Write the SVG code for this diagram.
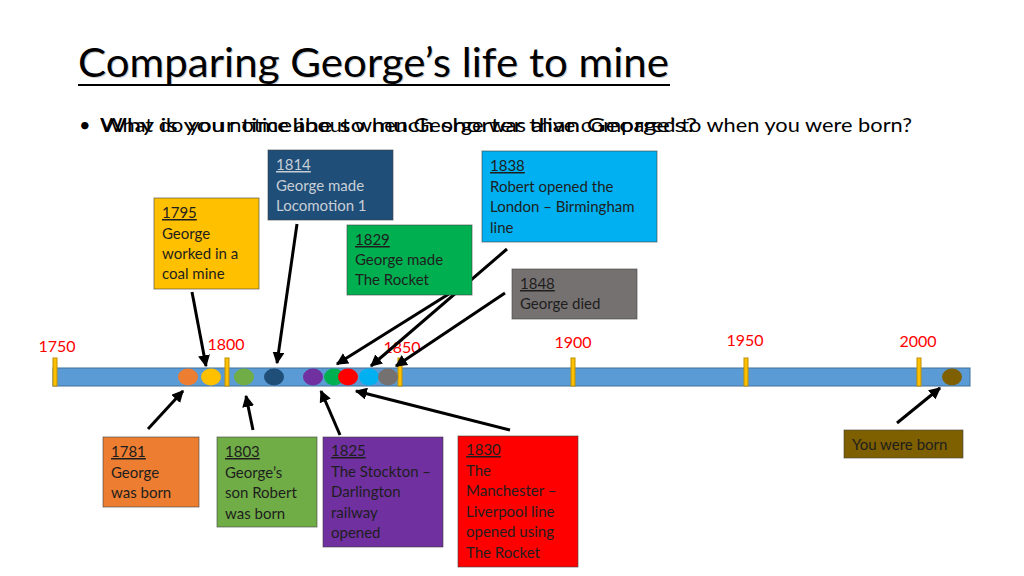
<svg xmlns="http://www.w3.org/2000/svg" width="1024" height="576" viewBox="0 0 1024 576">
<defs>
<marker id="ah" viewBox="0 0 10 10" refX="9" refY="5" markerWidth="4" markerHeight="4" orient="auto" markerUnits="strokeWidth">
<path d="M0,0 L10,5 L0,10 z" fill="#000"/>
</marker>
<style>
.t{font-family:"Lato","Open Sans","Liberation Sans",sans-serif;}
.box{stroke:#404040;stroke-opacity:0.6;stroke-width:1;}
.bt{font-family:"Lato","Open Sans","Liberation Sans",sans-serif;font-size:15px;fill:#1e1e1e;}
.yr{text-decoration:underline;}
.lab{font-family:"Lato","Open Sans","Liberation Sans",sans-serif;font-size:16px;fill:#ff0000;text-anchor:middle;}
.tick{fill:#ffc000;stroke:#bf9000;stroke-width:1;}
.arr{stroke:#000;stroke-width:3;fill:none;marker-end:url(#ah);}
</style>
</defs>
<rect width="1024" height="576" fill="#ffffff"/>
<g id="title">
<text class="t" x="79" y="78" font-size="40" fill="#9a9a9a" textLength="591" lengthAdjust="spacingAndGlyphs" opacity="0.5">Comparing George’s life to mine</text>
<text class="t" x="78" y="77" font-size="40" fill="#000" textLength="591" lengthAdjust="spacingAndGlyphs">Comparing George’s life to mine</text>
<rect x="78" y="84" width="592" height="2" fill="#000"/>
</g>
<g id="bullet">
<text class="t" x="79" y="132" font-size="20" fill="#000">•</text>
<text class="t" x="100" y="132" font-size="20" fill="#000" textLength="597" lengthAdjust="spacingAndGlyphs">Why is your timeline so much shorter than George’s?</text>
<text class="t" x="100" y="132" font-size="20" fill="#000" textLength="812" lengthAdjust="spacingAndGlyphs">What do you notice about when George was alive compared to when you were born?</text>
</g>
<g id="timeline">
<rect x="53" y="368" width="917" height="18" fill="#5b9bd5" stroke="#41719c" stroke-width="1"/>
<rect class="tick" x="53" y="358" width="4" height="28"/>
<rect class="tick" x="225" y="358" width="4" height="28"/>
<rect class="tick" x="398" y="358" width="4" height="28"/>
<rect class="tick" x="571" y="358" width="4" height="28"/>
<rect class="tick" x="744" y="358" width="4" height="28"/>
<rect class="tick" x="917" y="358" width="4" height="28"/>
<text class="lab" x="57" y="352">1750</text>
<text class="lab" x="226" y="350">1800</text>
<text class="lab" x="402" y="353">1850</text>
<text class="lab" x="573" y="348">1900</text>
<text class="lab" x="745" y="346">1950</text>
<text class="lab" x="918" y="347">2000</text>
<ellipse cx="188" cy="377" rx="10" ry="8.5" fill="#ed7d31"/>
<ellipse cx="211" cy="377" rx="10" ry="8.5" fill="#ffc000"/>
<ellipse cx="244" cy="377" rx="10" ry="8.5" fill="#70ad47"/>
<ellipse cx="274" cy="377" rx="10" ry="8.5" fill="#1f4e79"/>
<ellipse cx="313" cy="377" rx="10" ry="8.5" fill="#7030a0"/>
<ellipse cx="334" cy="377" rx="10" ry="8.5" fill="#00b050"/>
<ellipse cx="348" cy="377" rx="10" ry="8.5" fill="#ff0000"/>
<ellipse cx="369" cy="377" rx="10" ry="8.5" fill="#00b0f0"/>
<ellipse cx="388" cy="377" rx="10" ry="8.5" fill="#767171"/>
<ellipse cx="952" cy="377" rx="10" ry="8.5" fill="#7f6000"/>
</g>
<g id="connectors">
<line class="arr" x1="192" y1="292" x2="206" y2="366"/>
<line class="arr" x1="297" y1="224" x2="277" y2="363"/>
<line class="arr" x1="452" y1="292" x2="337" y2="364"/>
<line class="arr" x1="507" y1="249" x2="371" y2="366"/>
<line class="arr" x1="505" y1="293" x2="396" y2="366"/>
<line class="arr" x1="148" y1="429" x2="183" y2="391"/>
<line class="arr" x1="253" y1="430" x2="246" y2="396"/>
<line class="arr" x1="340" y1="435" x2="321" y2="391"/>
<line class="arr" x1="510" y1="430" x2="356" y2="391"/>
<line class="arr" x1="897" y1="423" x2="940" y2="388"/>
</g>
<g id="n1814">
<rect class="box" x="268" y="150" width="125" height="70" fill="#1f4e79"/>
<text class="bt" style="fill:#c8ced6"><tspan class="yr" x="276" y="170">1814</tspan><tspan x="276" y="191">George made</tspan><tspan x="276" y="211">Locomotion 1</tspan></text>
</g>
<g id="n1795">
<rect class="box" x="154" y="198" width="105" height="91" fill="#ffc000"/>
<text class="bt"><tspan class="yr" x="162" y="218">1795</tspan><tspan x="162" y="239">George</tspan><tspan x="162" y="259">worked in a</tspan><tspan x="162" y="279">coal mine</tspan></text>
</g>
<g id="n1829">
<rect class="box" x="347" y="225" width="125" height="70" fill="#00b050"/>
<text class="bt"><tspan class="yr" x="355" y="245">1829</tspan><tspan x="355" y="265">George made</tspan><tspan x="355" y="285">The Rocket</tspan></text>
</g>
<g id="n1838">
<rect class="box" x="482" y="151" width="175" height="91" fill="#00b0f0"/>
<text class="bt"><tspan class="yr" x="490" y="171">1838</tspan><tspan x="490" y="192">Robert opened the</tspan><tspan x="490" y="212">London – Birmingham</tspan><tspan x="490" y="233">line</tspan></text>
</g>
<g id="n1848">
<rect class="box" x="512" y="269" width="125" height="50" fill="#767171"/>
<text class="bt"><tspan class="yr" x="520" y="289">1848</tspan><tspan x="520" y="309">George died</tspan></text>
</g>
<g id="n1781">
<rect class="box" x="103" y="437" width="96" height="70" fill="#ed7d31"/>
<text class="bt"><tspan class="yr" x="111" y="457">1781</tspan><tspan x="111" y="478">George</tspan><tspan x="111" y="498">was born</tspan></text>
</g>
<g id="n1803">
<rect class="box" x="217" y="437" width="100" height="90" fill="#70ad47"/>
<text class="bt"><tspan class="yr" x="225" y="457">1803</tspan><tspan x="225" y="478">George’s</tspan><tspan x="225" y="498">son Robert</tspan><tspan x="225" y="519">was born</tspan></text>
</g>
<g id="n1825">
<rect class="box" x="323" y="437" width="120" height="110" fill="#7030a0"/>
<text class="bt"><tspan class="yr" x="331" y="456">1825</tspan><tspan x="331" y="477">The Stockton –</tspan><tspan x="331" y="497">Darlington</tspan><tspan x="331" y="518">railway</tspan><tspan x="331" y="538">opened</tspan></text>
</g>
<g id="n1830">
<rect class="box" x="458" y="436" width="120" height="131" fill="#ff0000"/>
<text class="bt"><tspan class="yr" x="466" y="455">1830</tspan><tspan x="466" y="476">The</tspan><tspan x="466" y="496">Manchester –</tspan><tspan x="466" y="517">Liverpool line</tspan><tspan x="466" y="537">opened using</tspan><tspan x="466" y="558">The Rocket</tspan></text>
</g>
<g id="nborn">
<rect class="box" x="844" y="430" width="119" height="28" fill="#7f6000"/>
<text class="bt" x="852" y="450">You were born</text>
</g>
</svg>
